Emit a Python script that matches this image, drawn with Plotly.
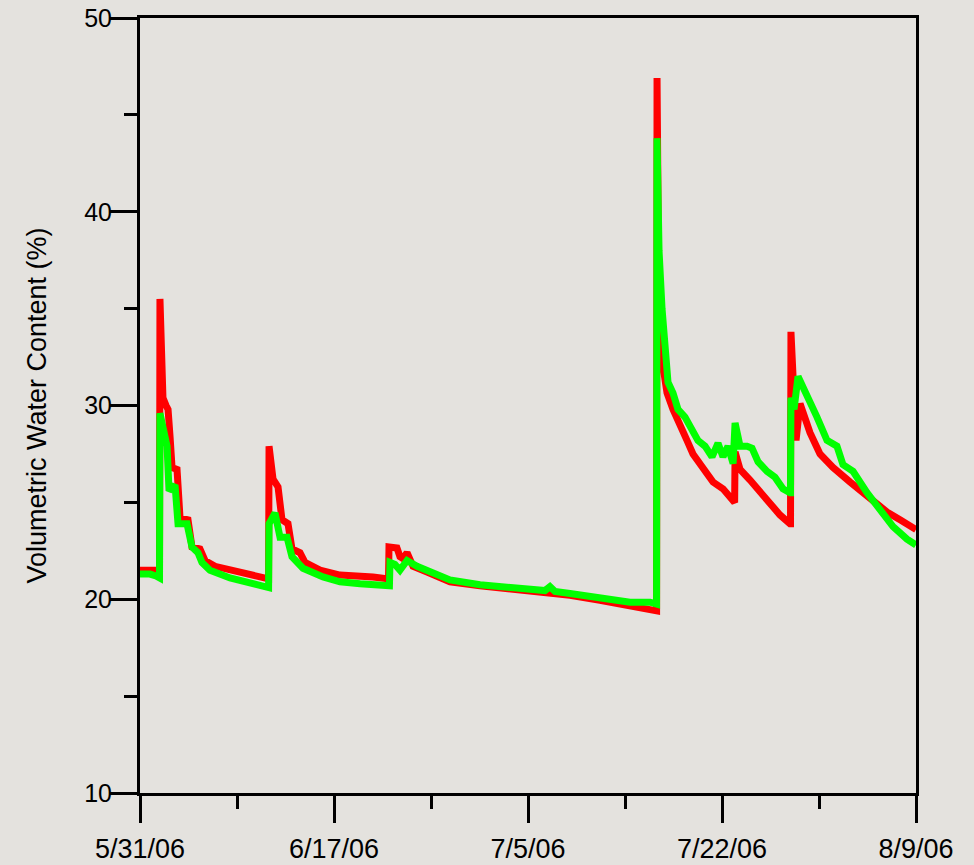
import pandas as pd
import plotly.graph_objects as go

# Elapsed days since 5/31/06 00:00 and volumetric water content (%)
start = pd.Timestamp("2006-05-31")

red_days = [0.00, 1.71, 1.76, 1.80, 2.07, 2.35, 2.53, 2.71, 2.89, 3.34, 3.61, 4.33, 4.69,
            5.41, 5.86, 6.77, 8.12, 9.92, 11.10, 11.55, 11.60, 11.64, 11.82, 12.00, 12.45,
            12.81, 13.35, 13.71, 14.43, 14.88, 16.24, 18.04, 21.02, 22.37, 22.42, 22.46,
            23.18, 23.45, 23.72, 24.09, 24.63, 25.89, 27.06, 27.96, 30.67, 33.38, 36.08,
            38.79, 41.49, 44.20, 46.01, 46.55, 46.60, 46.64, 46.82, 47.09, 47.54, 48.08,
            48.71, 49.34, 49.88, 50.70, 51.42, 51.69, 52.59, 53.50, 53.59, 53.64, 53.68,
            54.13, 55.03, 56.56, 57.73, 58.63, 58.68, 58.72, 59.18, 59.54, 60.44, 61.34,
            62.51, 64.05, 65.58, 67.38, 68.56, 70.00]
red_vwc = [21.5, 21.5, 21.5, 35.5, 30.4, 30.0, 29.8, 28.4, 26.8, 26.7, 24.2, 24.1, 22.7,
           22.6, 22.0, 21.7, 21.5, 21.25, 21.1, 21.05, 21.05, 27.9, 26.5, 26.2, 25.8,
           24.1, 23.9, 22.6, 22.4, 21.9, 21.5, 21.25, 21.15, 21.05, 21.05, 22.7,
           22.65, 22.2, 22.1, 22.4, 21.7, 21.4, 21.1, 20.9, 20.7, 20.55, 20.35,
           20.2, 19.95, 19.7, 19.45, 19.4, 19.4, 46.9, 34.0, 32.35, 30.65, 29.8,
           28.9, 28.2, 27.5, 26.8, 26.3, 26.05, 25.7, 25.1, 25.0, 25.0, 27.6,
           26.7, 26.15, 25.1, 24.35, 23.9, 23.9, 33.8, 28.2, 30.1, 28.6, 27.5,
           26.8, 26.05, 25.3, 24.5, 24.1, 23.6]

green_days = [0.00, 0.90, 1.44, 1.71, 1.76, 1.80, 2.07, 2.44, 2.62, 3.16, 3.43, 4.24, 4.69,
              5.23, 5.59, 6.31, 8.12, 9.92, 11.10, 11.46, 11.60, 11.64, 12.18, 12.63, 13.26,
              13.71, 14.70, 16.51, 18.04, 19.85, 22.28, 22.50, 22.55, 23.00, 23.45, 24.09,
              24.99, 26.16, 27.06, 27.96, 30.67, 33.38, 36.08, 36.53, 36.98, 37.44, 38.79,
              41.49, 44.20, 46.01, 46.55, 46.60, 46.64, 46.82, 47.09, 47.36, 47.63, 48.08,
              48.53, 49.16, 49.79, 50.33, 50.97, 51.60, 52.14, 52.59, 53.04, 53.50, 53.68,
              54.13, 54.76, 55.21, 55.75, 56.56, 57.28, 58.00, 58.63, 58.68, 58.72, 59.00,
              59.36, 60.17, 61.07, 61.97, 62.87, 63.41, 64.32, 65.58, 66.75, 67.93, 69.19,
              70.00]
green_vwc = [21.3, 21.3, 21.2, 21.1, 21.1, 29.6, 28.9, 27.9, 25.6, 25.9, 23.9, 23.9, 22.7,
             22.4, 21.9, 21.5, 21.1, 20.85, 20.7, 20.6, 20.6, 23.9, 24.45, 23.2, 23.2,
             22.2, 21.6, 21.15, 20.9, 20.8, 20.7, 20.7, 21.9, 21.8, 21.5, 22.0,
             21.7, 21.4, 21.15, 21.0, 20.75, 20.6, 20.4, 20.45, 20.65, 20.4, 20.3,
             20.05, 19.85, 19.85, 19.75, 19.75, 43.8, 38.0, 35.0, 32.5, 31.2, 30.65,
             29.8, 29.4, 28.7, 28.2, 27.9, 27.35, 28.05, 27.35, 27.9, 27.0, 29.1,
             27.9, 27.9, 27.8, 27.1, 26.6, 26.3, 25.7, 25.5, 25.5, 30.4, 29.8,
             31.5, 30.4, 29.4, 28.2, 27.9, 26.95, 26.6, 25.5, 24.6, 23.75, 23.1,
             22.8]

x_tick_days = [0, 17.5, 35, 52.5, 70]
x_tick_labels = ["5/31/06", "6/17/06", "7/5/06", "7/22/06", "8/9/06"]
x_minor_days = [8.75, 26.25, 43.75, 61.25]
y_range = [10, 50]
y_title = "Volumetric Water Content (%)"


def to_dates(days):
    return start + pd.to_timedelta(days, unit="D")


fig = go.Figure()
fig.add_trace(go.Scatter(x=to_dates(red_days), y=red_vwc, mode="lines",
                         line=dict(color="#ff0000", width=7), showlegend=False))
fig.add_trace(go.Scatter(x=to_dates(green_days), y=green_vwc, mode="lines",
                         line=dict(color="#00ff00", width=7), showlegend=False))

bg = "#e4e2de"
fig.update_layout(
    width=974, height=865,
    margin=dict(l=140, r=58, t=18, b=72),
    paper_bgcolor=bg, plot_bgcolor=bg,
    font=dict(family="Liberation Sans, Arial, sans-serif", color="black"),
)
fig.update_xaxes(
    type="date",
    range=[to_dates([0])[0], to_dates([70])[0]],
    tickmode="array",
    tickvals=list(to_dates(x_tick_days)),
    ticktext=x_tick_labels,
    ticks="outside", ticklen=27, tickwidth=2.5, tickcolor="black",
    tickfont=dict(size=27),
    ticklabelstandoff=3,
    minor=dict(tickmode="array", tickvals=list(to_dates(x_minor_days)),
               ticks="outside", ticklen=13, tickwidth=2.5, tickcolor="black"),
    showline=True, linecolor="black", linewidth=3, mirror=True,
    showgrid=False, zeroline=False, automargin=False,
)
fig.update_yaxes(
    range=y_range,
    tickmode="linear", tick0=10, dtick=10,
    ticks="outside", ticklen=27, tickwidth=2.5, tickcolor="black",
    tickfont=dict(size=25),
    ticklabelstandoff=-7,
    minor=dict(dtick=5, ticks="outside", ticklen=13, tickwidth=2.5, tickcolor="black",
               showgrid=False),
    showline=True, linecolor="black", linewidth=3, mirror=True,
    showgrid=False, zeroline=False, automargin=False,
    title=dict(text=y_title, font=dict(size=27), standoff=30),
)

fig.write_html(
    "out.html",
    config={"displayModeBar": False},
    post_script="document.body.style.margin='0';document.body.style.background='%s';" % bg,
)
